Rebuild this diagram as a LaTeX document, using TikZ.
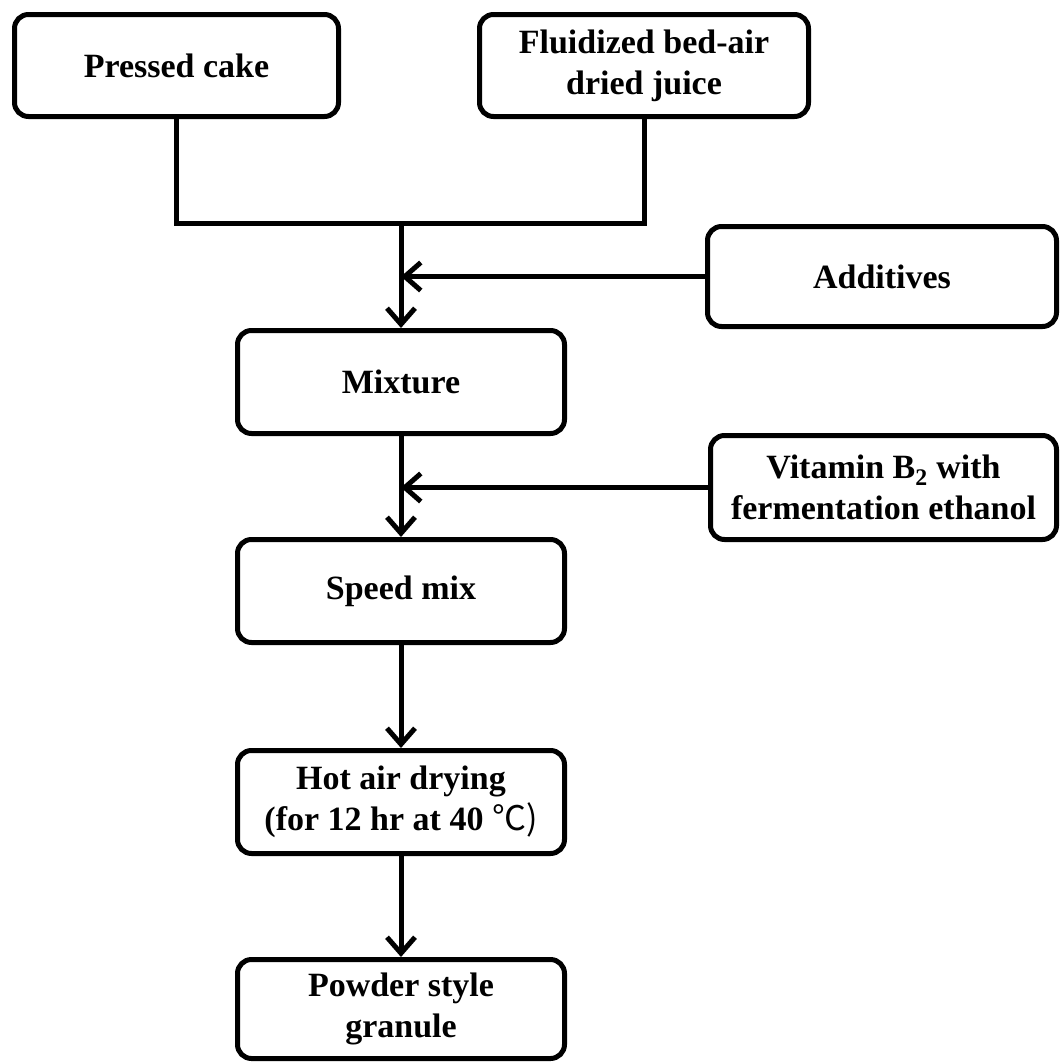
\documentclass[tikz,border=0pt]{standalone}
\usepackage{fontspec}
\setmainfont{Liberation Serif}
\newfontfamily\cjkfont{Noto Sans CJK KR}
\usetikzlibrary{arrows.meta}
\begin{document}
\begin{tikzpicture}[x=1pt,y=-1pt,
  box/.style={draw, line width=5pt, rounded corners=14pt, inner sep=0pt, align=center,
    font=\bfseries\fontsize{34}{41}\selectfont},
  conn/.style={line width=5pt},
  arr/.style={line width=5pt, -{Straight Barb[length=16pt,width=28pt]}}]
\useasboundingbox (0,0) rectangle (1061,1063);
\node[box, minimum width=324pt, minimum height=102pt] (pc) at (176.5,65.5) {Pressed cake};
\node[box, minimum width=329pt, minimum height=102pt] (fl) at (644,65.5) {Fluidized bed-air\\dried juice};
\node[box, minimum width=349pt, minimum height=100pt] (ad) at (882,276.5) {Additives};
\node[box, minimum width=327pt, minimum height=103pt] (mx) at (401,382) {Mixture};
\node[box, minimum width=346pt, minimum height=104pt] (vt) at (883.5,487.5) {Vitamin B\textsubscript{2} with\\fermentation ethanol};
\node[box, minimum width=327pt, minimum height=103pt] (sm) at (401,591) {Speed mix};
\node[box, minimum width=327pt, minimum height=103pt] (ha) at (401,802) {Hot air drying\\(for 12 hr at 40 {\cjkfont\mdseries ℃)}};
\node[box, minimum width=327pt, minimum height=99pt] (pw) at (401,1009) {Powder style\\granule};
\coordinate (j) at (401,223);
\draw[conn] (pc.south) |- (j) -| (fl.south);
\draw[arr] (j) -- (mx.north);
\draw[arr] (ad.west) -- (j |- ad.west);
\draw[arr] (mx.south) -- (sm.north);
\draw[arr] (vt.west) -- (mx.south |- vt.west);
\draw[arr] (sm.south) -- (ha.north);
\draw[arr] (ha.south) -- (pw.north);
\end{tikzpicture}
\end{document}
